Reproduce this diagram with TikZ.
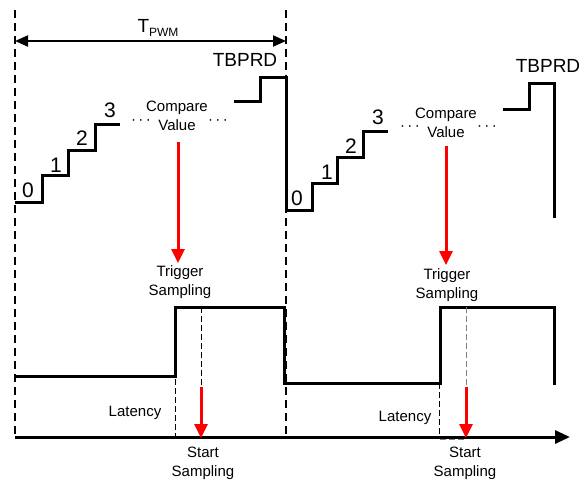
\documentclass[tikz,border=0pt]{standalone}
\usepackage{fontspec}
\setmainfont{Liberation Sans}
\usetikzlibrary{arrows.meta}
\begin{document}
\begin{tikzpicture}[x=1pt,y=-1pt,
  wave/.style={line width=3pt, line join=miter},
  bigdash/.style={line width=2pt, dash pattern=on 8pt off 5pt},
  thindash/.style={line width=1pt, dash pattern=on 6pt off 3pt},
  redarrow/.style={line width=3pt, red, -{Triangle[length=14pt,width=13pt]}},
  lbl/.style={font=\fontsize{15}{19}\selectfont, inner sep=0pt, align=center},
  num/.style={font=\fontsize{21}{24}\selectfont, inner sep=0pt},
  big/.style={font=\fontsize{19}{22}\selectfont, inner sep=0pt},
]
\useasboundingbox (0,0) rectangle (581,483);

% period markers
\draw[bigdash] (15,10) -- (15,437);
\draw[bigdash] (286,10) -- (286,437);

% T_PWM
\coordinate (tl) at (15,41);
\coordinate (tr) at (286,41);
\draw[line width=2pt, {Triangle[length=13pt,width=11pt]}-{Triangle[length=13pt,width=11pt]}] (tl) -- (tr);
\node[big] (tpwm) at (158,28) {T\raisebox{-3.5pt}{\fontsize{12}{14}\selectfont PWM}};

% counter staircase
\draw[wave] (15,202) -| (42,175) -| (68,150) -| (95,124) -- (120,124);
\draw[wave] (234,101) -| (260,77) -- (286,77) -- (286,210) -| (312,183) -| (337,157) -| (363,131) -- (388,131);
\draw[wave] (503,109) -| (529,83) -- (554,83) -- (554,218);

\node[big] (tb1) at (245,60) {TBPRD};
\node[big] (tb2) at (548,66) {TBPRD};

\node[num] (a0) at (28,190) {0};
\node[num] (a1) at (56,165) {1};
\node[num] (a2) at (82,138) {2};
\node[num] (a3) at (110,110) {3};
\node[num] (b0) at (297,198) {0};
\node[num] (b1) at (327,172) {1};
\node[num] (b2) at (351,146) {2};
\node[num] (b3) at (378,117) {3};

\node[lbl] (cv1) at (177,115.5) {Compare\\Value};
\node[lbl] (cv2) at (446,122.5) {Compare\\Value};
\node[lbl] (d1) at (141,122) {·\,·\,·};
\node[lbl] (d2) at (218,122) {·\,·\,·};
\node[lbl] (d3) at (410,128) {·\,·\,·};
\node[lbl] (d4) at (487,128) {·\,·\,·};

% trigger arrows
\node[lbl] (tr1) at (180,282.5) {Trigger\\Sampling};
\node[lbl] (tr2) at (447,285.5) {Trigger\\Sampling};
\coordinate (r1s) at (178,142);
\coordinate (r1e) at (178,263);
\coordinate (r2s) at (446,146);
\coordinate (r2e) at (446,265);
\draw[redarrow] (r1s) -- (r1e);
\draw[redarrow] (r2s) -- (r2e);

% sampling waveform
\draw[wave] (15,376) -- (175,376) -- (175,307) -- (284,307) -- (284,383) -- (440,383) -- (440,307) -- (554,307) -- (554,385);

% latency markers
\draw[thindash] (175,307) -- (175,437);
\draw[thindash] (201,307) -- (201,387);
\draw[thindash] (439,383) -- (439,437);
\draw[thindash, gray] (466,307) -- (466,387);
\draw[line width=2pt, gray, dash pattern=on 6pt off 3pt] (440,439) -- (464,439);

% time axis
\coordinate (ax0) at (15,437);
\coordinate (ax1) at (570,437);
\draw[line width=3pt, -{Triangle[length=15pt,width=13pt]}] (ax0) -- (ax1);

% start sampling arrows
\coordinate (s1s) at (201,387);
\coordinate (s1e) at (201,438);
\coordinate (s2s) at (466,387);
\coordinate (s2e) at (466,438);
\draw[redarrow] (s1s) -- (s1e);
\draw[redarrow] (s2s) -- (s2e);

\node[lbl] (lat1) at (135,413) {Latency};
\node[lbl] (lat2) at (405,418) {Latency};
\node[lbl] (ss1) at (203,463) {Start\\Sampling};
\node[lbl] (ss2) at (465,463) {Start\\Sampling};
\end{tikzpicture}
\end{document}
